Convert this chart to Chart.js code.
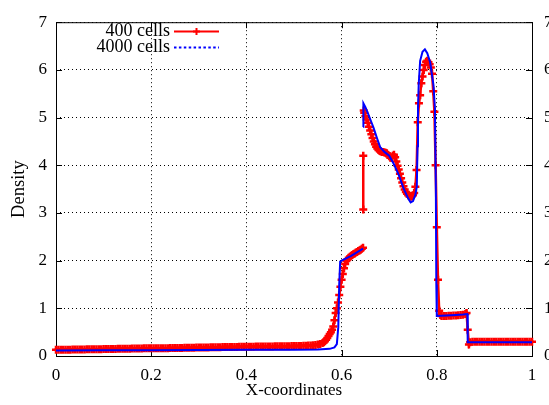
<!DOCTYPE html>
<html>
<head>
<meta charset="utf-8">
<title>Density</title>
<script src="https://cdn.jsdelivr.net/npm/chart.js@4.4.0/dist/chart.umd.min.js"></script>
<style>
  html, body { margin: 0; padding: 0; background: #fff; }
  canvas { display: block; }
</style>
</head>
<body>
<canvas id="densityChart" width="549" height="405"></canvas>
<script>
const seriesLabels = ['400 cells', '4000 cells'];
const xTitle = 'X-coordinates';
const yTitle = 'Density';
const xTicks = [0, 0.2, 0.4, 0.6, 0.8, 1];
const xTickLabels = ['0', '0.2', '0.4', '0.6', '0.8', '1'];
const yTicks = [0, 1, 2, 3, 4, 5, 6, 7];

// 400 cells (null = break in the line)
const coarseX = [
  0, 0.005, 0.01, 0.015, 0.02, 0.025, 0.03, 0.035, 0.04, 0.045,
  0.05, 0.055, 0.06, 0.065, 0.07, 0.075, 0.08, 0.085, 0.09, 0.095,
  0.1, 0.105, 0.11, 0.115, 0.12, 0.125, 0.13, 0.135, 0.14, 0.145,
  0.15, 0.155, 0.16, 0.165, 0.17, 0.175, 0.18, 0.185, 0.19, 0.195,
  0.2, 0.205, 0.21, 0.215, 0.22, 0.225, 0.23, 0.235, 0.24, 0.245,
  0.25, 0.255, 0.26, 0.265, 0.27, 0.275, 0.28, 0.285, 0.29, 0.295,
  0.3, 0.305, 0.31, 0.315, 0.32, 0.325, 0.33, 0.335, 0.34, 0.345,
  0.35, 0.355, 0.36, 0.365, 0.37, 0.375, 0.38, 0.385, 0.39, 0.395,
  0.4, 0.405, 0.41, 0.415, 0.42, 0.425, 0.43, 0.435, 0.44, 0.445,
  0.45, 0.455, 0.46, 0.465, 0.47, 0.475, 0.48, 0.485, 0.49, 0.495,
  0.5, 0.505, 0.51, 0.515, 0.52, 0.525, 0.53, 0.535, 0.54, 0.545, 0.55, 0.555,
  0.56, 0.5625, 0.565, 0.5675, 0.57, 0.5725, 0.575, 0.5775, 0.58, 0.5825,
  0.585, 0.5875, 0.59, 0.5925, 0.595, 0.5975, 0.6, 0.6025, 0.605, 0.6075,
  0.61, 0.6125, 0.615, 0.6175, 0.62, 0.6225, 0.625, 0.6275, 0.63, 0.6325,
  0.635, 0.6375, 0.64, 0.6425, 0.645,
  0.6452, 0.6455, 0.6455, 0.6458,
  0.6465, 0.6475,
  0.65, 0.6525, 0.655, 0.6575, 0.66, 0.6625, 0.665, 0.6675, 0.67, 0.6725,
  0.675, 0.6775, 0.68, 0.6825, 0.685, 0.6875, 0.69, 0.6925, 0.695, 0.6975,
  0.7, 0.7025, 0.705, 0.7075, 0.71, 0.7125, 0.715, 0.7175, 0.72, 0.7225,
  0.725, 0.7275, 0.73, 0.7325, 0.735, 0.7375, 0.74, 0.7425, 0.745, 0.7475,
  0.75, 0.7525, 0.755, 0.7575, 0.76, 0.7625, 0.765, 0.7675, 0.77, 0.7725,
  0.775, 0.7775, 0.78, 0.7825, 0.785, 0.7875, 0.79, 0.7925, 0.795, 0.7975,
  0.8, 0.8025, 0.805, 0.8075, 0.81,
  0.815, 0.82, 0.825, 0.83, 0.835, 0.84, 0.845, 0.85, 0.855, 0.86,
  0.8625, 0.865, 0.8675, 0.87,
  0.875, 0.88, 0.885, 0.89, 0.895, 0.9, 0.905, 0.91, 0.915, 0.92,
  0.925, 0.93, 0.935, 0.94, 0.945, 0.95, 0.955, 0.96, 0.965, 0.97,
  0.975, 0.98, 0.985, 0.99, 0.995, 1
];
const coarseY = [
  0.13, 0.13, 0.13, 0.13, 0.13, 0.13, 0.13, 0.135, 0.135, 0.135,
  0.135, 0.135, 0.135, 0.14, 0.14, 0.14, 0.14, 0.14, 0.14, 0.14,
  0.145, 0.145, 0.145, 0.145, 0.145, 0.145, 0.15, 0.15, 0.15, 0.15,
  0.15, 0.15, 0.155, 0.155, 0.155, 0.155, 0.155, 0.16, 0.16, 0.16,
  0.16, 0.16, 0.16, 0.165, 0.165, 0.165, 0.165, 0.165, 0.17, 0.17,
  0.17, 0.17, 0.17, 0.17, 0.175, 0.175, 0.175, 0.175, 0.175, 0.18,
  0.18, 0.18, 0.18, 0.18, 0.18, 0.185, 0.185, 0.185, 0.185, 0.185,
  0.19, 0.19, 0.19, 0.19, 0.19, 0.19, 0.19, 0.195, 0.195, 0.195,
  0.195, 0.195, 0.195, 0.195, 0.2, 0.2, 0.2, 0.2, 0.2, 0.2,
  0.2, 0.2, 0.205, 0.205, 0.205, 0.205, 0.205, 0.205, 0.205, 0.21,
  0.21, 0.21, 0.21, 0.21, 0.215, 0.215, 0.22, 0.22, 0.225, 0.23, 0.24, 0.25,
  0.27, 0.29, 0.31, 0.34, 0.38, 0.42, 0.46, 0.5, 0.55, 0.62,
  0.75, 0.9, 1.0, 1.12, 1.28, 1.45, 1.6, 1.72, 1.84, 1.93,
  1.99, 2.03, 2.06, 2.08, 2.1, 2.12, 2.14, 2.15, 2.17, 2.18,
  2.2, 2.21, 2.23, 2.25, 2.27,
  null, 3.07, 4.2, null,
  5.15, 5.1,
  5.03, 4.96, 4.89, 4.81, 4.73, 4.65, 4.57, 4.5, 4.44, 4.39,
  4.35, 4.32, 4.3, 4.29, 4.28, 4.28, 4.27, 4.26, 4.25, 4.22,
  4.19, 4.16, 4.16, 4.2, 4.22, 4.17, 4.08, 3.99, 3.91, 3.82,
  3.73, 3.64, 3.56, 3.49, 3.44, 3.4, 3.37, 3.35, 3.34, 3.35,
  3.37, 3.42, 3.55, 3.9, 4.9, 5.3, 5.47, 5.72, 5.86, 6.0,
  6.1, 6.17, 6.19, 6.16, 6.12, 6.05, 5.92, 5.55, 5.12, 4.0,
  2.7, 1.6, 0.95, 0.86, 0.84,
  0.84, 0.84, 0.845, 0.845, 0.85, 0.85, 0.855, 0.86, 0.865, 0.88,
  0.9, 0.55, 0.24, 0.29,
  0.3, 0.3, 0.3, 0.3, 0.3, 0.3, 0.3, 0.3, 0.3, 0.3,
  0.3, 0.3, 0.3, 0.3, 0.3, 0.3, 0.3, 0.3, 0.3, 0.3,
  0.3, 0.3, 0.3, 0.3, 0.3, 0.3
];

// 4000 cells
const fineX = [
  0, 0.1, 0.2, 0.3, 0.4, 0.5, 0.55, 0.575, 0.585, 0.59,
  0.593, 0.595, 0.597, 0.6, 0.62, 0.645, 0.6452, 0.6455, 0.6458, 0.65,
  0.655, 0.66, 0.667, 0.675, 0.681, 0.69, 0.7, 0.71, 0.72, 0.73,
  0.74, 0.745, 0.75, 0.755, 0.758, 0.7595, 0.7605, 0.762, 0.765, 0.77,
  0.775, 0.78, 0.786, 0.793, 0.796, 0.798, 0.799, 0.8, 0.82, 0.84,
  0.855, 0.864, 0.865, 0.9, 1
];
const fineY = [
  0.117, 0.12, 0.123, 0.126, 0.129, 0.133, 0.138, 0.15, 0.18, 0.25,
  0.6, 1.5, 1.98, 2.0, 2.1, 2.25, null, 4.8, 5.3, 5.22,
  5.1, 4.97, 4.79, 4.55, 4.38, 4.28, 4.2, 4.02, 3.8, 3.52,
  3.3, 3.22, 3.25, 3.38, 3.55, 4.4, 5.2, 5.7, 6.19, 6.38,
  6.43, 6.35, 6.16, 5.68, 5.2, 3.5, 1.5, 0.84, 0.85, 0.86,
  0.87, 0.88, 0.29, 0.29, 0.29
];

const serif = '"Liberation Serif", "DejaVu Serif", serif';

function toPoints(xs, ys) {
  return xs.map((x, i) => ({ x: x, y: ys[i] }));
}

// box round the plot with small inward ticks on all four sides
const framePlugin = {
  id: 'frame',
  beforeDatasetsDraw(chart) {
    const { ctx, chartArea: a, scales } = chart;
    ctx.save();
    ctx.strokeStyle = '#000';
    ctx.lineWidth = 1;
    ctx.setLineDash([]);
    ctx.strokeRect(a.left + 0.5, a.top + 0.5, a.right - a.left, a.bottom - a.top);
    ctx.beginPath();
    scales.x.ticks.forEach(t => {
      const px = Math.round(scales.x.getPixelForValue(t.value)) + 0.5;
      ctx.moveTo(px, a.bottom); ctx.lineTo(px, a.bottom - 6);
      ctx.moveTo(px, a.top); ctx.lineTo(px, a.top + 6);
    });
    scales.y.ticks.forEach(t => {
      const py = Math.round(scales.y.getPixelForValue(t.value)) + 0.5;
      ctx.moveTo(a.left, py); ctx.lineTo(a.left + 6, py);
      ctx.moveTo(a.right, py); ctx.lineTo(a.right - 6, py);
    });
    ctx.stroke();
    ctx.restore();
  }
};

// gnuplot style key inside the plot, top left
const keyPlugin = {
  id: 'key',
  afterDraw(chart) {
    const { ctx } = chart;
    const rows = [31, 47];
    ctx.save();
    ctx.font = '18px ' + serif;
    ctx.fillStyle = '#000';
    ctx.textAlign = 'right';
    ctx.textBaseline = 'middle';
    chart.data.datasets.forEach((ds, i) => {
      const y = rows[i] + 0.5;
      ctx.fillText(ds.label, 170, rows[i]);
      ctx.strokeStyle = ds.borderColor;
      ctx.lineWidth = 2;
      ctx.setLineDash(ds.keyDash || []);
      ctx.beginPath();
      ctx.moveTo(174, y); ctx.lineTo(219, y);
      ctx.stroke();
      ctx.setLineDash([]);
      if (ds.pointRadius > 0) {
        ctx.beginPath();
        ctx.moveTo(196.5 - 3.5, y); ctx.lineTo(196.5 + 3.5, y);
        ctx.moveTo(196.5, y - 3.5); ctx.lineTo(196.5, y + 3.5);
        ctx.stroke();
      }
    });
    ctx.restore();
  }
};

const tickFont = { family: serif, size: 17 };

new Chart(document.getElementById('densityChart'), {
  type: 'line',
  data: {
    datasets: [
      {
        label: seriesLabels[0],
        data: toPoints(coarseX, coarseY),
        borderColor: '#ff0000',
        backgroundColor: '#ff0000',
        borderWidth: 2.5,
        pointStyle: 'cross',
        pointRadius: 4,
        pointBorderWidth: 2.5,
        pointBorderColor: '#ff0000',
        tension: 0,
        spanGaps: false,
        clip: false,
        order: 1
      },
      {
        label: seriesLabels[1],
        data: toPoints(fineX, fineY),
        borderColor: '#0000ff',
        backgroundColor: '#0000ff',
        borderWidth: 2,
        pointRadius: 0,
        tension: 0,
        spanGaps: false,
        keyDash: [2.5, 2.4],
        order: 0
      }
    ]
  },
  options: {
    responsive: false,
    animation: false,
    devicePixelRatio: 1,
    layout: { padding: { top: 16, left: 0, right: 0, bottom: 0 } },
    plugins: {
      legend: { display: false },
      tooltip: { enabled: false }
    },
    scales: {
      x: {
        type: 'linear',
        min: 0,
        max: 1,
        afterBuildTicks: s => { s.ticks = xTicks.map(v => ({ value: v })); },
        afterFit: s => { s.height = 49; },
        ticks: {
          font: tickFont, color: '#000', padding: 9, maxRotation: 0, autoSkip: false,
          callback: (v, i) => xTickLabels[i]
        },
        grid: { color: '#000', lineWidth: 1, drawTicks: false },
        border: { display: false, dash: [1, 3] },
        title: { display: true, text: xTitle, font: tickFont, color: '#000', padding: { top: 0, bottom: 4 } }
      },
      y: {
        type: 'linear',
        position: 'left',
        min: 0,
        max: 7,
        afterBuildTicks: s => { s.ticks = yTicks.map(v => ({ value: v })); },
        afterFit: s => { s.width = 56; },
        ticks: { font: tickFont, color: '#000', padding: 9 },
        grid: { color: '#000', lineWidth: 1, drawTicks: false },
        border: { display: false, dash: [1, 3] },
        title: { display: true, text: yTitle, font: { family: serif, size: 18.5 }, color: '#000', padding: { top: 8, bottom: 0 } }
      },
      y2: {
        type: 'linear',
        position: 'right',
        min: 0,
        max: 7,
        afterBuildTicks: s => { s.ticks = yTicks.map(v => ({ value: v })); },
        afterFit: s => { s.width = 17; },
        ticks: { font: tickFont, color: '#000', padding: 12 },
        grid: { display: false, drawTicks: false },
        border: { display: false }
      }
    }
  },
  plugins: [framePlugin, keyPlugin]
});
</script>
</body>
</html>
